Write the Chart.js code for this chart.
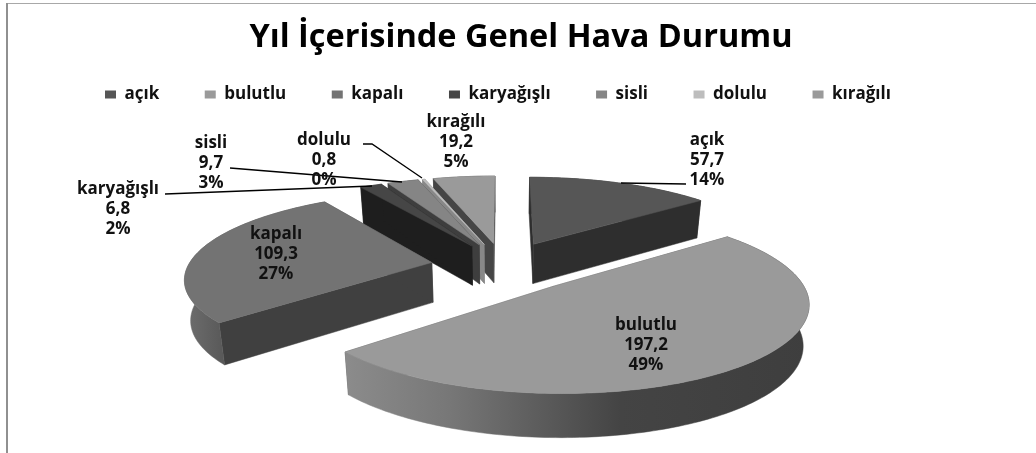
<!DOCTYPE html>
<html><head><meta charset="utf-8">
<script src="https://cdn.jsdelivr.net/npm/chart.js@4/dist/chart.umd.min.js"></script>
<style>html,body{margin:0;padding:0;background:#fff}#w{width:1036px;height:453px;position:relative}</style>
</head><body><div id="w"><canvas id="c" width="1036" height="453"></canvas></div>
<script>
const titleText = 'Yıl İçerisinde Genel Hava Durumu';
const categories = ['açık','bulutlu','kapalı','karyağışlı','sisli','dolulu','kırağılı'];
const values = [57.7,197.2,109.3,6.8,9.7,0.8,19.2];
const percents = [14,49,27,2,3,0,5];

// styles
const topColors = ['#565656','#9a9a9a','#737373','#464646','#858585','#bdbdbd','#9a9a9a'];
const wallColors = ['#2e2e2e','#555555','#404040','#1e1e1e','#3e3e3e','#888888','#454545'];
const outerStops = [
  [[500,'#2e2e2e'],[700,'#2e2e2e']],
  [[343,'#8c8c8c'],[450,'#777777'],[620,'#444444'],[810,'#3e3e3e']],
  [[185,'#6e6e6e'],[230,'#555555']],
  [[0,'#1e1e1e'],[1,'#1e1e1e']],
  [[0,'#3e3e3e'],[1,'#3e3e3e']],
  [[0,'#888888'],[1,'#888888']],
  [[0,'#454545'],[1,'#454545']]
];
const paintOrder = [6,5,4,3,0,2,1];
// projection
const P = {x0:503, y0:264.6, a:251, b:85.7, k:0.172, e:0.26, depth:40};
const sliceShift = [[3,-1],[7,4],[-7,1],[0,0],[0,0],[0,0],[0,0]];
const sliceScale = [0.985,0.965,0.97,1,1,1,1];
// label layout: centre x and first line y
const labelPos = [[707,140],[646,325],[276,234],[118,189],[211,143],[324,140],[456,122]];
const leaders = [
  [[621,183],[686,184]],
  [[230,168],[402,182]],
  [[165,194],[372,186]],
  [[363,144],[372,144],[422,178]]
];
const LABEL_FONT = '700 17px "Open Sans"';

function project(u,v,z,sh){
  const w = 1 - P.k*v;
  let X = P.a*u/w, Y = P.y0 + P.b*v/w + sh[1];
  if(z){ X *= 0.98; Y += P.depth/(1-0.08*v); }
  return [P.x0 + X + sh[0], Y];
}
function poly(ctx,pts,fill){
  ctx.beginPath();
  pts.forEach((p,i)=> i?ctx.lineTo(p[0],p[1]):ctx.moveTo(p[0],p[1]));
  ctx.closePath(); ctx.fillStyle=fill; ctx.fill();
  ctx.strokeStyle=fill; ctx.lineWidth=0.5; ctx.stroke();
}
const pie3d = {
  id:'pie3d',
  beforeDatasetDraw(chart){
    const ctx = chart.ctx, arcs = chart.getDatasetMeta(0).data;
    paintOrder.forEach(i=>{
      const arc = arcs[i], sh = sliceShift[i];
      const r = sliceScale[i], a0 = arc.startAngle, a1 = arc.endAngle, mid=(a0+a1)/2;
      const ou = P.e*Math.cos(mid), ov = P.e*Math.sin(mid);
      const n = Math.max(2,Math.ceil((a1-a0)/0.02));
      const rim = [];
      for(let j=0;j<=n;j++){ const t=a0+(a1-a0)*j/n; rim.push([ou+r*Math.cos(t),ov+r*Math.sin(t)]); }
      const T = q=>project(q[0],q[1],0,sh), B = q=>project(q[0],q[1],1,sh);
      const apex=[ou,ov], first=rim[0], last=rim[n];
      poly(ctx,[T(apex),T(first),B(first),B(apex)],wallColors[i]);
      poly(ctx,[T(apex),T(last),B(last),B(apex)],wallColors[i]);
      const st = outerStops[i], xa=st[0][0], xb=st[st.length-1][0];
      const g = ctx.createLinearGradient(xa,0,xb,0);
      st.forEach(s=>g.addColorStop((s[0]-xa)/(xb-xa),s[1]));
      poly(ctx,rim.map(T).concat(rim.slice().reverse().map(B)),g);
      poly(ctx,[T(apex)].concat(rim.map(T)),topColors[i]);
    });
    return false;
  },
  afterDatasetsDraw(chart){
    const ctx = chart.ctx;
    ctx.save();
    ctx.strokeStyle='#000'; ctx.lineWidth=1.3;
    leaders.forEach(l=>{ctx.beginPath();l.forEach((p,i)=>i?ctx.lineTo(p[0],p[1]):ctx.moveTo(p[0],p[1]));ctx.stroke();});
    ctx.fillStyle='#111'; ctx.font=LABEL_FONT; ctx.textAlign='center'; ctx.textBaseline='middle';
    categories.forEach((c,i)=>{
      const [x,y]=labelPos[i];
      ctx.fillText(c,x,y);
      ctx.fillText(values[i].toFixed(1).replace('.',','),x,y+20);
      ctx.fillText(percents[i]+'%',x,y+40);
    });
    ctx.restore();
  },
  beforeDraw(chart){
    const ctx=chart.ctx;
    ctx.save();
    ctx.fillStyle='#fff'; ctx.fillRect(0,0,1036,453);
    ctx.fillStyle='#a8a8a8'; ctx.fillRect(7,3,1029,1);
    ctx.fillStyle='#909090'; ctx.fillRect(6,3,2,450);
    ctx.restore();
  },
  afterLayout(chart){
    const pad = chart.options.plugins.legend.labels.padding;
    chart.legend.left = 105 - pad;
    chart.legend.top = 95 - pad - 9;
    chart.titleBlock.left += 3;
    chart.titleBlock.right += 3;
  }
};
new Chart(document.getElementById('c'),{
  type:'pie',
  data:{labels:categories,datasets:[{data:values,backgroundColor:topColors,borderWidth:0}]},
  plugins:[pie3d],
  options:{
    responsive:false,animation:false,rotation:0,
    plugins:{
      tooltip:{enabled:false},
      title:{display:true,text:titleText,color:'#000',align:'center',
        font:{family:'"Open Sans"',size:32.5,weight:'700'},padding:{top:18,bottom:18}},
      legend:{display:true,position:'top',align:'start',
        labels:{color:'#111',boxWidth:11,boxHeight:8,padding:45.5,
          font:{family:'"Open Sans"',size:17,weight:'700'}}}
    }
  }
});
</script></body></html>
